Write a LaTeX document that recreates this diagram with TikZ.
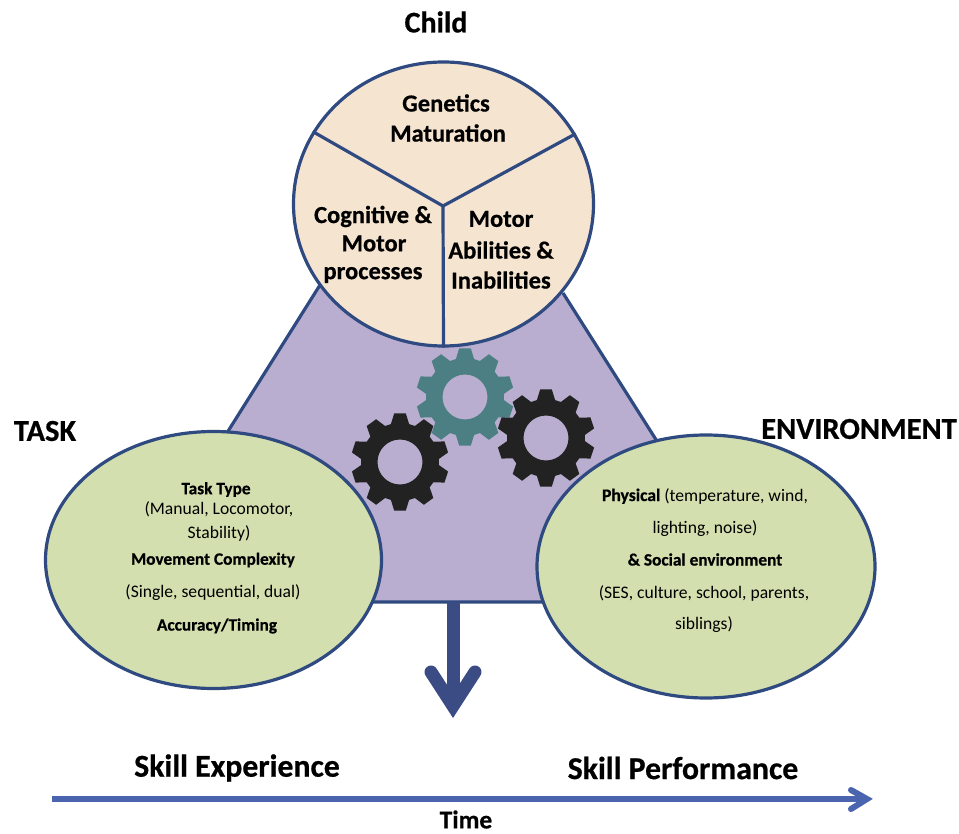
\documentclass[tikz,border=0pt]{standalone}
\usepackage{fontspec}
\setmainfont[BoldFeatures={FakeBold=0.6}]{Carlito}
\usetikzlibrary{calc,shapes.geometric}
\definecolor{navy}{HTML}{2F4A80}
\definecolor{arrowblue}{HTML}{3B4C85}
\definecolor{timeblue}{HTML}{4A64B0}
\definecolor{purplefill}{HTML}{B9AED0}
\definecolor{peach}{HTML}{F5E4D0}
\definecolor{greenfill}{HTML}{D3DFAE}
\definecolor{tealgear}{HTML}{4B7F83}
\definecolor{darkgear}{HTML}{222222}
\newcommand{\gearat}[3]{%
  \fill[#3,even odd rule,shift={(#1,#2)}]
    (76:39)
    \foreach \a in {90,126,162,198,234,270,306,342,378,414}{
      -- ({\a-13.5}:39) -- ({\a-6.8}:49) -- ({\a+6.8}:49) -- ({\a+13.5}:39)
    } -- cycle
    (0,0) circle (22.5);
}
\tikzset{
  x=1pt,y=-1pt,
  outline/.style={draw=navy,line width=3.2pt},
  head/.style={font=\bfseries\fontsize{30}{32}\selectfont,text=black,inner sep=0pt},
  big/.style={font=\bfseries\fontsize{30.5}{32}\selectfont,text=black,inner sep=0pt},
  skill/.style={font=\bfseries\fontsize{31.8}{34}\selectfont,text=black,inner sep=0pt},
  timelabel/.style={font=\bfseries\fontsize{25.5}{27}\selectfont,text=black,inner sep=0pt},
  circtext/.style={font=\bfseries\fontsize{24.5}{26}\selectfont,text=black,inner sep=0pt},
  smallb/.style={font=\bfseries\fontsize{17.3}{19}\selectfont,text=black,inner sep=0pt},
  smallr/.style={font=\fontsize{17.6}{19}\selectfont,text=black,inner sep=0pt},
  oval/.style={outline,fill=greenfill,ellipse,inner sep=0pt},
}
\begin{document}
\begin{tikzpicture}
\useasboundingbox (0,0) rectangle (959,834);
% triangle
\coordinate (tl) at (120.6,602);
\coordinate (tr) at (759,602);
\coordinate (tal) at (320,285);
\coordinate (tar) at (563,293);
\fill[purplefill] (tal) -- (tl) -- (tr) -- (tar) -- cycle;
\draw[outline] (tal) -- (tl) -- (tr) -- (tar);
% gears
\gearat{465}{397}{tealgear}
\gearat{400}{462}{darkgear}
\gearat{546}{438}{darkgear}
% big shapes
\node[oval,minimum width=336pt,minimum height=257pt] (task) at (213.5,560) {};
\node[oval,minimum width=338pt,minimum height=263pt] (env) at (706,566.5) {};
\node[outline,fill=peach,ellipse,inner sep=0pt,minimum width=300pt,minimum height=284pt] (child) at (443.5,204) {};
\coordinate (hub) at (443,206);
\draw[navy,line width=3.2pt] (child.151) -- (hub) -- (child.28);
\draw[navy,line width=3.2pt] (hub) -- (child.270);
% big arrow
\coordinate (astart) at (453,602);
\coordinate (atip) at (453,706);
\coordinate (abarbl) at (431,672);
\coordinate (abarbr) at (475,672);
\draw[arrowblue,line width=13pt] (astart) -- (atip);
\draw[arrowblue,line width=13pt,line cap=round,line join=miter,miter limit=10] (abarbl) -- (atip) -- (abarbr);
% time arrow
\coordinate (tstart) at (52,799);
\coordinate (ttip) at (867,799);
\coordinate (tbl) at (851,790);
\coordinate (tbr) at (851,809);
\draw[timeblue,line width=5.5pt] (tstart) -- (ttip);
\draw[timeblue,line width=6pt,line cap=round,line join=miter] (tbl) -- (ttip) -- (tbr);
% labels
\node[head] (lchild) at (436,22) {Child};
\node[big] (ltask) at (45,431) {TASK};
\node[big] (lenv) at (859,429) {ENVIRONMENT};
\node[circtext] (c1) at (446,103) {Genetics};
\node[circtext] (c2) at (448,133) {Maturation};
\node[circtext] (c3) at (373,216.5) {Cognitive \&};
\node[circtext] (c4) at (374,243.5) {Motor};
\node[circtext] (c5) at (373,275) {processes};
\node[circtext] (c6) at (501,219) {Motor};
\node[circtext] (c7) at (501,250) {Abilities \&};
\node[circtext] (c8) at (501,280) {Inabilities};
\node[smallb] (t1) at (216,489.5) {Task Type};
\node[smallr] (t2) at (219,509) {(Manual, Locomotor,};
\node[smallr] (t3) at (219,533) {Stability)};
\node[smallb] (t4) at (213,560) {Movement Complexity};
\node[smallr] (t5) at (213,593) {(Single, sequential, dual)};
\node[smallb] (t6) at (217,626) {Accuracy/Timing};
\node[smallr] (e1) at (705,496) {\textbf{Physical} (temperature, wind,};
\node[smallr] (e2) at (705,529) {lighting, noise)};
\node[smallb] (e3) at (705,559.5) {\& Social environment};
\node[smallr] (e4) at (704,593) {(SES, culture, school, parents,};
\node[smallr] (e5) at (704,625) {siblings)};
\node[skill] (s1) at (237,768) {Skill Experience};
\node[skill] (s2) at (683,768) {Skill Performance};
\node[timelabel] (ltime) at (466,819.5) {Time};
\end{tikzpicture}
\end{document}
